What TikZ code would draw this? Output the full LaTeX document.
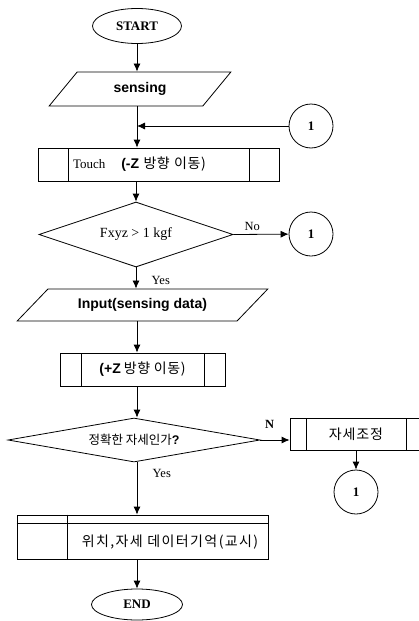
\documentclass[tikz,border=0pt]{standalone}
\usepackage{fontspec}
\setmainfont{Liberation Serif}
\newfontfamily\sansfont{Liberation Sans}
\newfontfamily\korfont{Noto Sans CJK KR}
\usepackage{tikz}
\usetikzlibrary{arrows.meta,shapes}

\begin{document}
\begin{tikzpicture}[line width=0.8bp,
  term/.style={draw,ellipse,inner sep=0pt,font=\fontsize{13bp}{15bp}\selectfont\bfseries},
  io/.style={draw,trapezium,trapezium stretches=true,inner sep=0pt,font=\fontsize{14bp}{16bp}\selectfont\sansfont\bfseries},
  subproc/.style={draw,rectangle,inner sep=0pt,path picture={
    \draw ([xshift=#1]path picture bounding box.north west) -- ([xshift=#1]path picture bounding box.south west);
    \draw ([xshift=-#1]path picture bounding box.north east) -- ([xshift=-#1]path picture bounding box.south east);}},
  cond/.style={draw,diamond,inner sep=0pt},
  conn/.style={draw,circle,minimum size=44bp,inner sep=0pt,font=\fontsize{13bp}{15bp}\selectfont\bfseries},
  lab/.style={font=\fontsize{12.5bp}{14bp}\selectfont},
  kor/.style={font=\fontsize{14bp}{16bp}\selectfont\korfont},
  arr/.style={-{Latex[length=8bp,width=7bp]}}]
\useasboundingbox (0bp,0bp) rectangle (419bp,-621bp);
\node (start) at (137bp,-26bp)[term,minimum width=89bp,minimum height=35bp] {START};
\node (sensing) at (140bp,-89bp)[io,minimum width=182bp,minimum height=34bp,trapezium left angle=48,trapezium right angle=132] {sensing};
\coordinate (join) at (137bp,-126bp);
\node (c1) at (311bp,-126bp)[conn] {1};
\node (touch) at (158.5bp,-164.5bp)[subproc=30bp,minimum width=241bp,minimum height=33bp,inner xsep=35bp,text width=171bp,align=left,font=\fontsize{13bp}{15bp}\selectfont] {Touch\hspace{16bp}{\sansfont\bfseries\fontsize{14bp}{16bp}\selectfont(-Z} {\korfont\fontsize{14bp}{16bp}\selectfont\addfontfeature{LetterSpace=4}방향 이동)}};
\node (check1) at (136bp,-234.5bp)[cond,aspect=2.98,minimum width=194bp,minimum height=65bp,font=\fontsize{14bp}{16bp}\selectfont] {Fxyz > 1 kgf};
\node (c2) at (311bp,-234bp)[conn] {1};
\node (input) at (142.5bp,-305bp)[io,minimum width=251bp,minimum height=32bp,trapezium left angle=32,trapezium right angle=148] {Input(sensing data)};
\node (upz) at (142.5bp,-369.5bp)[subproc=21bp,minimum width=165bp,minimum height=33bp,kor] {{\sansfont\bfseries(+Z} {\addfontfeature{LetterSpace=4}방향 이동)}};
\node (check2) at (134bp,-440bp)[cond,aspect=5.7,minimum width=252bp,minimum height=44bp,font=\fontsize{12.5bp}{14bp}\selectfont\korfont] {정확한 자세인가{\sansfont\bfseries ?}};
\node (adjust) at (356bp,-434bp)[subproc=16bp,minimum width=132bp,minimum height=32bp,kor] {\addfontfeature{LetterSpace=6}자세조정};
\node (c3) at (356bp,-492bp)[conn] {1};
\node (store) at (142.5bp,-537bp)[draw,minimum width=251bp,minimum height=44bp,inner sep=0pt] {};
\node (storetext) at (170bp,-542bp)[kor] {\addfontfeature{LetterSpace=10}위치,자세 데이터기억(교시)};
\node (end) at (137bp,-604.5bp)[term,minimum width=91bp,minimum height=31bp] {END};
\draw ([yshift=-9bp]store.north west) -- ([yshift=-9bp]store.north east);
\draw ([xshift=51bp]store.north west) -- ([xshift=51bp]store.south west);
\draw [arr] (start.south) -- (start.south |- sensing.north);
\draw (sensing.south -| join) -- (join);
\draw [arr] (join) -- (join |- touch.north);
\draw [arr] (c1) -- (join);
\draw [arr] (touch.south -| check1.north) -- (check1.north);
\draw [arr] (check1.east) -- node[lab,above,near start,xshift=5bp] {No} (c2);
\draw [arr] (check1.south) -- node[lab,right,near end,xshift=12bp,yshift=3bp] {Yes} (check1.south |- input.north);
\draw [arr] (input.south -| join) -- (upz.north -| join);
\draw [arr] (upz.south -| join) -- (check2.north -| join);
\draw [arr] (check2.east) -- node[lab,above,near start,yshift=8bp,xshift=2bp] {\bfseries N} (check2.east -| adjust.west);
\draw [arr] (adjust) -- (c3);
\draw [arr] (check2.south -| join) -- node[lab,right,near start,xshift=12bp,yshift=2bp] {Yes} (store.north -| join);
\draw [arr] (store.south -| join) -- (end.north -| join);
\end{tikzpicture}
\end{document}
